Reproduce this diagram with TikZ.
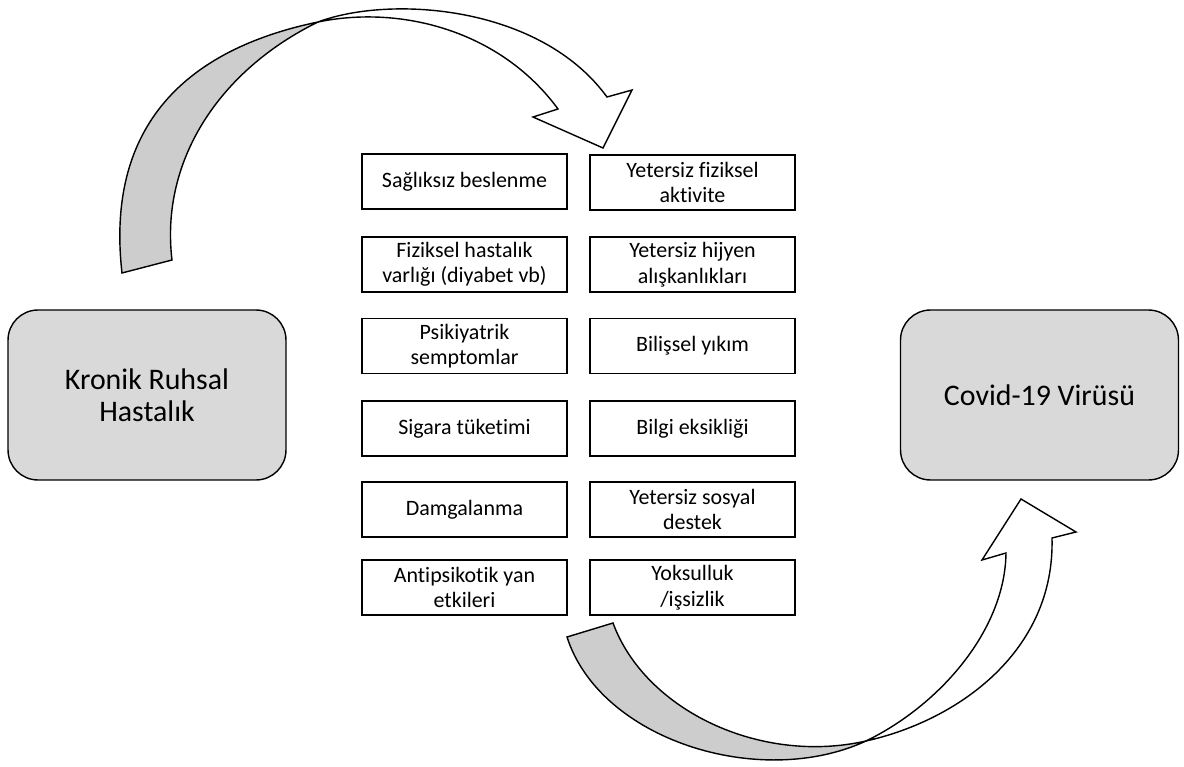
\documentclass[tikz,border=0pt]{standalone}
\usepackage{fontspec}
\setmainfont{Carlito}[Ligatures=NoCommon]
\usepackage{xcolor}
\usepackage{tikz}
\usetikzlibrary{positioning,calc}

\definecolor{boxgray}{RGB}{217,217,217}
\definecolor{arrowgray}{RGB}{205,205,205}

\tikzset{
    factor/.style={draw, line width=1pt, minimum width=4.1cm, minimum height=1.1cm,
        align=center, font=\fontsize{12.5}{14.5}\selectfont, inner sep=1pt},
    mainbox/.style={draw, line width=0.8pt, fill=boxgray, rounded corners=0.6cm,
        minimum width=5.56cm, minimum height=3.4cm, align=center,
        font=\fontsize{17}{18}\selectfont},
    blockarrow/.style={draw, line width=0.8pt, line join=miter}
}

\begin{document}
\begin{tikzpicture}[x=0.02cm,y=-0.02cm]
    \useasboundingbox (0,0) rectangle (1184,767);

    % Main boxes
    \node[mainbox] (kronik) at (147,395) {Kronik Ruhsal\\Hastalık};
    \node[mainbox] (covid) at (1039.5,395) {Covid-19 Virüsü};

    % Risk factors, left column
    \node[factor] (beslenme) at (464.5,181.5) {Sağlıksız beslenme};
    \node[factor] (fiziksel) at (464.5,264.5) {Fiziksel hastalık\\varlığı (diyabet vb)};
    \node[factor] (psikiyatrik) at (464.5,346) {Psikiyatrik\\semptomlar};
    \node[factor] (sigara) at (464.5,428.5) {Sigara tüketimi};
    \node[factor] (damga) at (464.5,509.5) {Damgalanma};
    \node[factor] (antipsikotik) at (464.5,587.5) {Antipsikotik yan\\etkileri};

    % Risk factors, right column
    \node[factor] (aktivite) at (692.5,182.5) {Yetersiz fiziksel\\aktivite};
    \node[factor] (hijyen) at (692.5,264.5) {Yetersiz hijyen\\alışkanlıkları};
    \node[factor] (bilissel) at (692.5,346) {Bilişsel yıkım};
    \node[factor] (bilgi) at (692.5,428.5) {Bilgi eksikliği};
    \node[factor] (sosyal) at (692.5,509.5) {Yetersiz sosyal\\destek};
    \node[factor] (yoksulluk) at (692.5,587.5) {Yoksulluk\\/işsizlik};

    % Upper curved arrow
    \draw[blockarrow, fill=arrowgray] (122,273) .. controls (108,150) and (160,55) .. (318,22)
        .. controls (220,70) and (160,160) .. (172,260) -- cycle;
    \draw[blockarrow, fill=white] (318,22) .. controls (390,-5) and (540,5) .. (607,97)
        -- (632,90) -- (603,148) -- (533,117) -- (558,109)
        .. controls (500,30) and (400,5) .. (318,22) -- cycle;

    % Lower curved arrow
    \draw[blockarrow, fill=arrowgray] (567,637) .. controls (600,740) and (760,790) .. (866,741)
        .. controls (760,765) and (645,710) .. (613,623) -- cycle;
    \draw[blockarrow, fill=white] (866,741) .. controls (960,720) and (1055,650) .. (1052,538)
        -- (1076,532) -- (1021,499) -- (982,560) -- (1006,553)
        .. controls (1005,630) and (940,705) .. (866,741) -- cycle;
\end{tikzpicture}
\end{document}
